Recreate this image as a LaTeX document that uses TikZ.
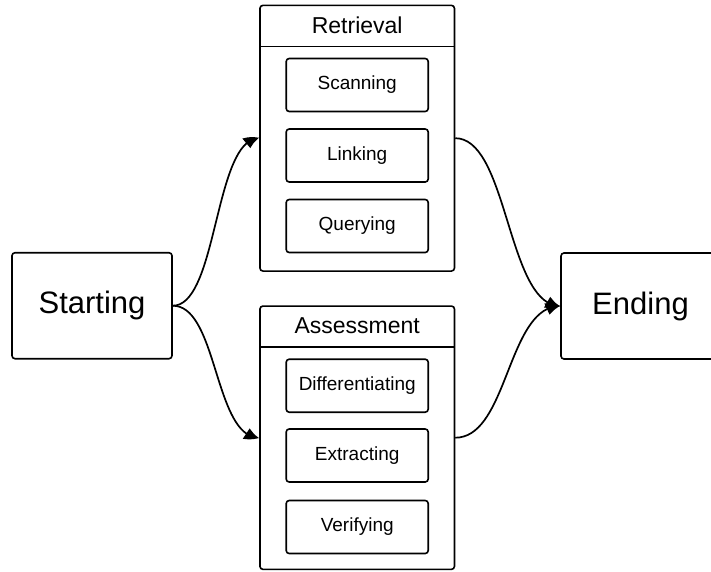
\documentclass[tikz,border=0pt]{standalone}
\usepackage{fontspec}
\setmainfont{Liberation Sans}
\usetikzlibrary{arrows.meta,bending}
\begin{document}
\begin{tikzpicture}[x=1pt,y=-1pt,
  box/.style={draw, line width=1.6pt, rounded corners=3pt, rectangle, inner sep=0pt},
  bigbox/.style={box, minimum height=106pt, font=\fontsize{31}{36}\selectfont},
  stepbox/.style={box, minimum width=142pt, minimum height=53pt, font=\fontsize{19}{22}\selectfont},
  panel/.style={box, minimum width=194.5pt},
  paneltitle/.style={rectangle, inner sep=0pt, minimum width=194.5pt, minimum height=41.4pt,
    anchor=north, font=\fontsize{23}{27}\selectfont},
  link/.style={line width=1.7pt, -{Triangle[length=14pt,width=12pt,bend]}}]
\useasboundingbox (0,0) rectangle (711,571);
\clip (0,0) rectangle (711,571);

% outer start / end boxes
\node[bigbox, minimum width=160pt] (start) at (92,305.7) {Starting};
\node[bigbox, minimum width=159pt] (finish) at (640.5,306) {Ending};

% Retrieval panel
\node[panel, minimum height=265.7pt] (retr) at (357.2,138.2) {};
\node[paneltitle] (retrT) at (retr.north) {Retrieval};
\draw[line width=1.6pt] (retrT.south west) -- (retrT.south east);
\node[stepbox] (scan) at (357.2,85) {Scanning};
\node[stepbox] (link) at (357.2,155.5) {Linking};
\node[stepbox] (query) at (357.2,226) {Querying};

% Assessment panel
\node[panel, minimum height=263.3pt] (asse) at (357.2,437.7) {};
\node[paneltitle] (asseT) at (asse.north) {Assessment};
\draw[line width=1.6pt] (asseT.south west) -- (asseT.south east);
\node[stepbox] (diff) at (357.2,385.7) {Differentiating};
\node[stepbox] (extr) at (357.2,455.5) {Extracting};
\node[stepbox] (veri) at (357.2,527) {Verifying};

% connectors
\draw[link] (start.east) .. controls +(45,0) and +(-45,0) .. (retr.west);
\draw[link] (start.east) .. controls +(45,0) and +(-45,0) .. (asse.west);
\draw[link] (retr.east) .. controls +(53,0) and +(-53,0) .. (finish.west);
\draw[link] (asse.east) .. controls +(53,0) and +(-53,0) .. (finish.west);
\end{tikzpicture}
\end{document}
